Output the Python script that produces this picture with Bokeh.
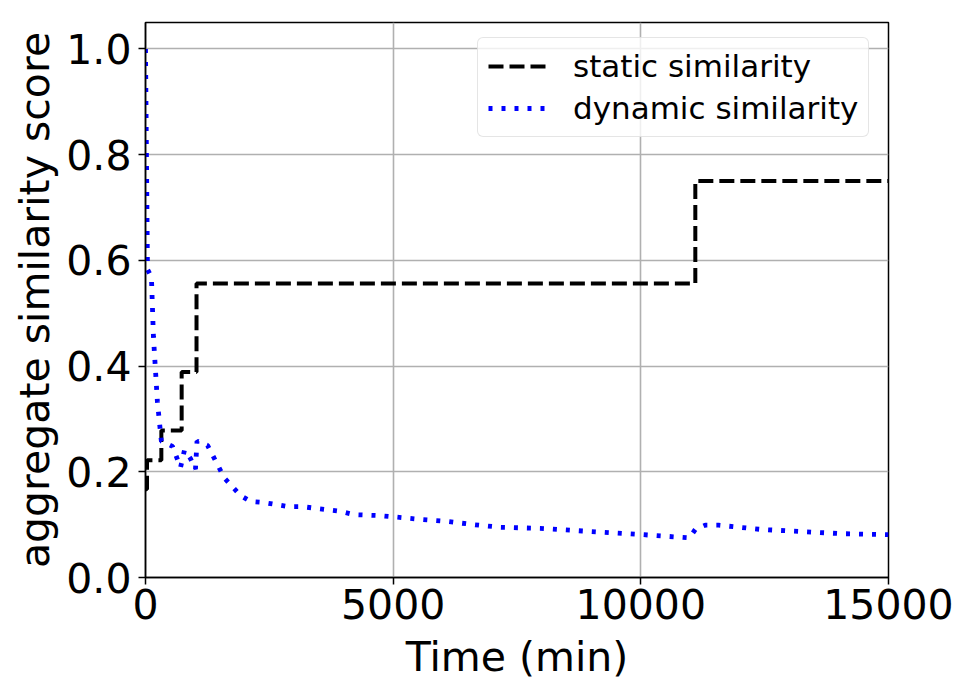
from bokeh.plotting import figure
from bokeh.models import Range1d, FixedTicker, NumeralTickFormatter, Legend, LegendItem
from bokeh.embed import file_html
from bokeh.resources import INLINE

# Static similarity: step function over time (value holds until next change)
static_time = [0, 30, 320, 730, 1030, 11100, 15000]
static_score = [0.167, 0.222, 0.278, 0.389, 0.556, 0.75, 0.75]

# Dynamic similarity: aggregate score sampled over time (minutes)
dynamic_time = [0, 40, 120, 160, 240, 320, 545, 707, 787, 908, 1009, 1040, 1252,
                1595, 1918, 2120, 2380, 2890, 3170, 3940, 4200, 4745, 5550, 6100,
                6620, 7170, 7970, 8820, 9890, 10980, 11100, 11300, 11570, 12420,
                13220, 14030, 15000]
dynamic_score = [1.0, 0.583, 0.568, 0.456, 0.333, 0.258, 0.248, 0.208, 0.241, 0.225,
                 0.205, 0.258, 0.250, 0.188, 0.155, 0.144, 0.142, 0.134, 0.134, 0.125,
                 0.119, 0.117, 0.110, 0.106, 0.100, 0.095, 0.093, 0.088, 0.082, 0.075,
                 0.091, 0.099, 0.099, 0.091, 0.087, 0.083, 0.081]

x_ticks = [0, 5000, 10000, 15000]
y_ticks = [0.0, 0.2, 0.4, 0.6, 0.8, 1.0]

FONT = "DejaVu Sans"

p = figure(width=970, height=696, output_backend="svg", toolbar_location=None,
           x_range=Range1d(0, 15000), y_range=Range1d(0, 1.05),
           min_border_left=145, min_border_right=82, min_border_top=22,
           min_border_bottom=119)

p.background_fill_color = "white"
p.border_fill_color = "white"
p.outline_line_color = "black"
p.outline_line_width = 1.5
p.outline_line_alpha = 1.0

r_static = p.step(static_time, static_score, mode="after", line_color="black",
                  line_width=4, line_dash="15 6")
r_dynamic = p.line(dynamic_time, dynamic_score, line_color="blue",
                   line_width=4.8, line_dash="4 9")

for ax in (p.xaxis[0], p.yaxis[0]):
    ax.major_label_text_font = FONT
    ax.major_label_text_font_size = "41px"
    ax.major_label_text_color = "black"
    ax.axis_label_text_font = FONT
    ax.axis_label_text_font_size = "41px"
    ax.axis_label_text_font_style = "normal"
    ax.axis_label_text_color = "black"
    ax.axis_line_color = "black"
    ax.axis_line_width = 1.5
    ax.major_tick_line_color = "black"
    ax.major_tick_line_width = 1.5
    ax.major_tick_out = 7
    ax.major_tick_in = 0
    ax.minor_tick_line_color = None

p.xaxis.ticker = FixedTicker(ticks=x_ticks)
p.yaxis.ticker = FixedTicker(ticks=y_ticks)
p.xaxis.formatter = NumeralTickFormatter(format="0")
p.yaxis.formatter = NumeralTickFormatter(format="0.0")
p.xaxis.axis_label = "Time (min)"
p.yaxis.axis_label = "aggregate similarity score"
p.xaxis.major_label_standoff = 4
p.yaxis.major_label_standoff = 7
p.xaxis.axis_label_standoff = 11
p.yaxis.axis_label_standoff = 4

p.xgrid.ticker = FixedTicker(ticks=x_ticks)
p.ygrid.ticker = FixedTicker(ticks=y_ticks)
p.grid.grid_line_color = "#b0b0b0"
p.grid.grid_line_width = 1.6

legend = Legend(items=[LegendItem(label="static similarity", renderers=[r_static]),
                       LegendItem(label="dynamic similarity", renderers=[r_dynamic])],
                location=(332, 440))
legend.label_text_font = FONT
legend.label_text_font_size = "31px"
legend.label_text_color = "black"
legend.glyph_width = 58
legend.glyph_height = 30
legend.label_height = 30
legend.label_standoff = 27
legend.spacing = 6
legend.padding = 10
legend.margin = 0
legend.border_line_color = "#cccccc"
legend.border_line_width = 1.5
legend.border_radius = 6
legend.background_fill_color = "white"
legend.background_fill_alpha = 0.8
p.add_layout(legend)

open("out.html", "w").write(file_html(p, INLINE))
